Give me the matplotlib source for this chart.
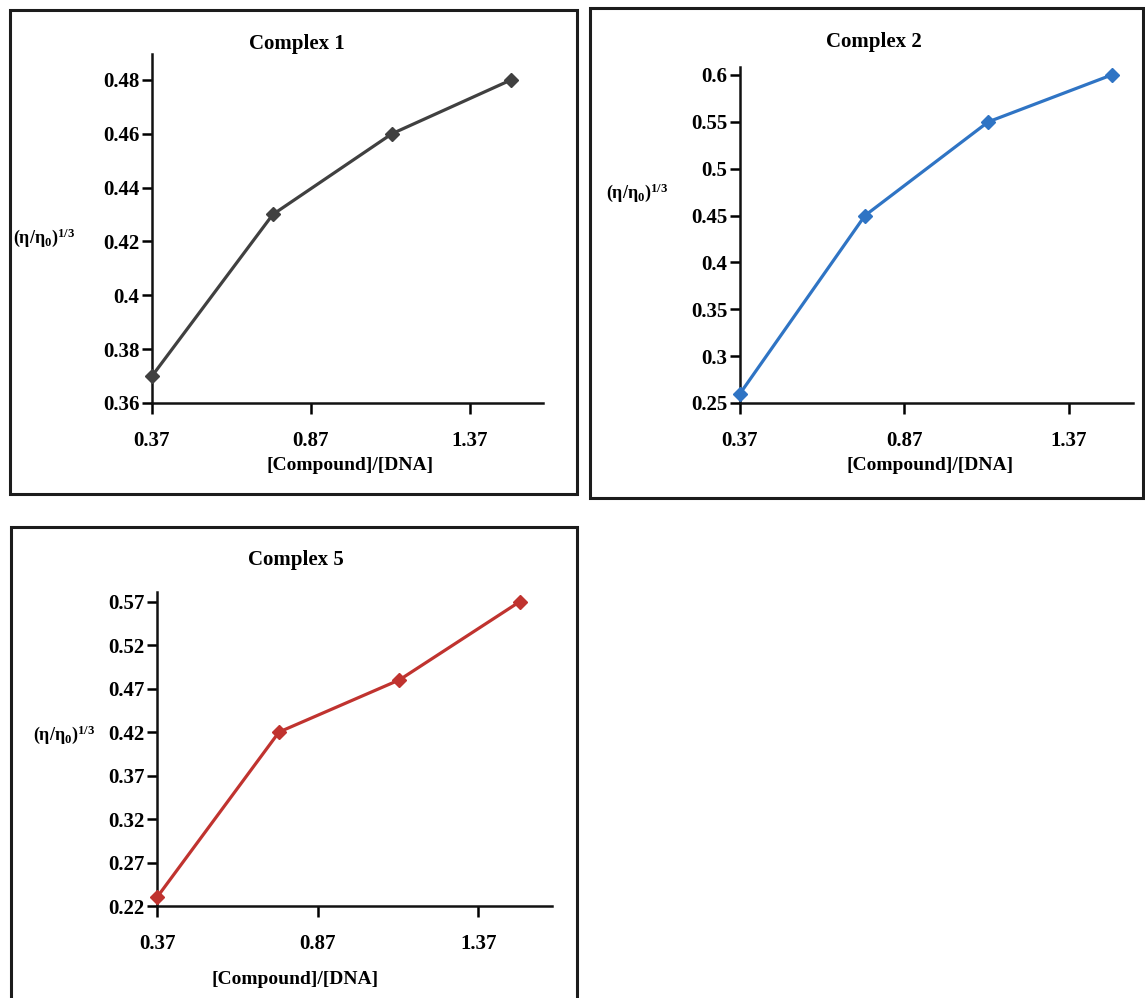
import numpy as np
import matplotlib
matplotlib.use('Agg')
import matplotlib.pyplot as plt
from matplotlib.patches import Rectangle

plt.rcParams['font.family'] = ['Liberation Serif', 'DejaVu Serif']
plt.rcParams['font.weight'] = 'bold'
plt.rcParams['mathtext.fontset'] = 'custom'
plt.rcParams['mathtext.rm'] = 'Liberation Serif:bold'
plt.rcParams['mathtext.bf'] = 'Liberation Serif:bold'
plt.rcParams['mathtext.it'] = 'Liberation Serif:bold'

# dades de viscositat: [Compound]/[DNA] vs (eta/eta0)^(1/3)
ratio = [0.37, 0.75, 1.125, 1.5]
visc_c1 = [0.37, 0.43, 0.46, 0.48]
visc_c2 = [0.26, 0.45, 0.55, 0.60]
visc_c5 = [0.23, 0.42, 0.48, 0.57]

xticks = [0.37, 0.87, 1.37]
xtick_labels = ['0.37', '0.87', '1.37']

yticks_c1 = [0.36, 0.38, 0.40, 0.42, 0.44, 0.46, 0.48]
ylabels_c1 = ['0.36', '0.38', '0.4', '0.42', '0.44', '0.46', '0.48']
yticks_c2 = [0.25, 0.30, 0.35, 0.40, 0.45, 0.50, 0.55, 0.60]
ylabels_c2 = ['0.25', '0.3', '0.35', '0.4', '0.45', '0.5', '0.55', '0.6']
yticks_c5 = [0.22, 0.27, 0.32, 0.37, 0.42, 0.47, 0.52, 0.57]
ylabels_c5 = ['0.22', '0.27', '0.32', '0.37', '0.42', '0.47', '0.52', '0.57']

W, H = 1145, 998
fig = plt.figure(figsize=(W/100, H/100), dpi=100)

def px(x0, y0, x1, y1):
  # caixa en píxels (x0,y0 a dalt-esquerra) -> coordenades de figura
  return [x0/W, 1-y1/H, (x1-x0)/W, (y1-y0)/H]

def frame(x0, y0, x1, y1):
  r = Rectangle((x0/W, 1-y1/H), (x1-x0)/W, (y1-y0)/H, transform=fig.transFigure,
                fill=False, edgecolor='#1c1c1c', linewidth=2.2, clip_on=False)
  fig.add_artist(r)

def panel(box, y, color, yt, ytl, ylim, xmax, title, tpos, xlpos, ylpos):
  ax = fig.add_axes(px(*box))
  ax.plot(ratio, y, color=color, linewidth=2.3, marker='D', markersize=7.5, clip_on=False, zorder=3)
  ax.set_xlim(0.37, xmax)
  ax.set_ylim(*ylim)
  ax.set_xticks(xticks)
  ax.set_xticklabels(xtick_labels)
  ax.set_yticks(yt)
  ax.set_yticklabels(ytl)
  for s in ['top', 'right']:
    ax.spines[s].set_visible(False)
  for s in ['left', 'bottom']:
    ax.spines[s].set_linewidth(1.8)
    ax.spines[s].set_color('#111111')
  ax.tick_params(axis='x', direction='out', length=8, width=1.8, pad=12, labelsize=15)
  ax.tick_params(axis='y', direction='out', length=7, width=1.8, pad=2, labelsize=15)
  ax.text(ylpos[0], ylpos[1], r'(η/η$_{0}$)$^{1/3}$', transform=ax.transAxes,
          ha='right', va='center', fontsize=13, fontweight='bold')
  fig.text(tpos[0]/W, 1-tpos[1]/H, title, ha='center', va='center', fontsize=15, fontweight='bold')
  fig.text(xlpos[0]/W, 1-xlpos[1]/H, '[Compound]/[DNA]', ha='center', va='center', fontsize=14, fontweight='bold')
  return ax

frame(10, 10, 577, 494)
frame(590, 8, 1143, 498)
frame(11, 527, 577, 1010)

panel((152, 54, 543, 403), visc_c1, '#404040', yticks_c1, ylabels_c1, (0.36, 0.4896), 1.60,
      'Complex 1', (297, 44), (350, 466), (-0.197, 0.474))
panel((740, 67, 1133, 403), visc_c2, '#2f74c4', yticks_c2, ylabels_c2, (0.25, 0.6085), 1.565,
      'Complex 2', (874, 42), (930, 465), (-0.183, 0.625))
panel((157, 592, 552, 906), visc_c5, '#c0332f', yticks_c5, ylabels_c5, (0.22, 0.581), 1.60,
      'Complex 5', (296, 560), (295, 979), (-0.157, 0.545))

fig.savefig('out.png', dpi=100)
